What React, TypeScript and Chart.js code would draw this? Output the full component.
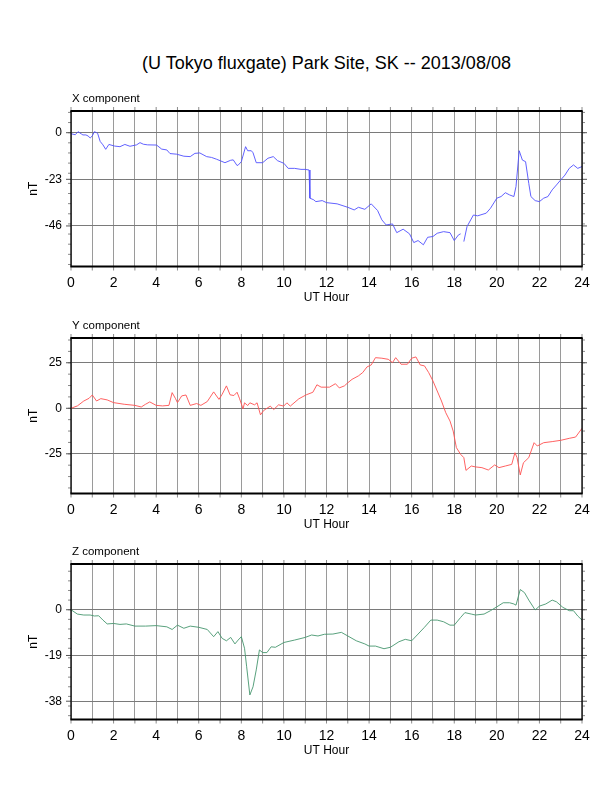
import React, { useEffect, useRef } from 'react';
import { Chart, registerables } from 'chart.js';

Chart.register(...registerables);
Chart.defaults.font.family = '"Liberation Sans", Arial, Helvetica, sans-serif';

const TITLE = '(U Tokyo fluxgate) Park Site, SK -- 2013/08/08';

// X component (nT)
const hoursX = [
  0, 0.2, 0.33, 0.5, 0.56, 0.7, 0.8, 0.9, 1.0, 1.1,
  1.2, 1.25, 1.37, 1.5, 1.63, 1.78, 2.05, 2.3, 2.53, 2.77,
  3.08, 3.24, 3.4, 3.6, 4.02, 4.26, 4.5, 4.65, 4.96, 5.3,
  5.6, 5.82, 6.05, 6.37, 6.6, 6.84, 7.23, 7.5, 7.62, 7.8,
  7.86, 8.0, 8.2, 8.3, 8.47, 8.55, 8.7, 9.0, 9.25,
  9.5, 9.7, 10.0, 10.2, 10.5, 10.8, 11.0, 11.18, 11.22, 11.4, 11.5, 11.8, 12.0, 12.5, 13.0, 13.3, 13.5, 13.8, 14.1, 14.4, 14.6, 14.8, 15.1, 15.3, 15.6, 15.9, 16.1, 16.3, 16.55, 16.75, 17.0, 17.2, 17.5, 17.8, 18.0, 18.2, 18.3, 18.38, 18.45, 18.6, 18.9, 19.1, 19.5, 19.7, 20.0, 20.2, 20.4, 20.6, 20.8, 20.9, 21.05, 21.2, 21.35, 21.5, 21.6, 21.8, 22.0, 22.2, 22.4, 22.6, 22.8, 23.0, 23.2, 23.4, 23.6, 23.8, 24.0,
];
const valuesX = [
  -0.5, -1, 0.5, -0.7, -1.1, -1.1, -1.6, -2.6, -1.6, 0.5,
  0, -0.3, -4.3, -6, -8.2, -5.8, -6.6, -6.9, -5.8, -6.7,
  -6, -4.9, -5.7, -6, -6.1, -8.1, -8.5, -10.3, -10.6, -11.6,
  -11.8, -10.2, -10, -11.8, -12.2, -13.1, -14.8, -13.6, -13.4, -16.2,
  -15.9, -14.3, -6.9, -8.9, -8.9, -9.9, -14.8, -14.8, -12.6,
  -11.8, -13.8, -15.1, -17.6, -17.6, -18.1, -18.1, -18.4, -32.3, -33.1, -34, -33.5, -34.5, -35.1, -36.8, -38.1, -36.8, -37.8, -35.1, -38.4, -43, -45.5, -45, -49.3, -47.6, -49.9, -54.2, -53.2, -55.3, -51.6, -51.2, -49.6, -48.8, -49.3, -53.2, -50.4, -49.9, null, -53.7, -46.3, -40.6, -41, -39.7, -37.3, -32.3, -31.5, -29.6, -30.7, -31.5, -26.6, -8.9, -13.5, -14.3, -25, -31.5, -33.5, -34, -32.3, -31.5, -28.2, -25.8, -23.3, -20.9, -17.6, -15.9, -17.6, -16.7,
];

// Y component (nT)
const hoursY = [
  0, 0.3, 0.6, 0.85, 1.0, 1.2, 1.4, 1.7, 2.0, 2.5, 3.0, 3.3, 3.5, 3.7, 4.0, 4.3, 4.6, 4.75, 4.9, 5.0, 5.2, 5.4, 5.6, 5.9, 6.1, 6.4, 6.7, 6.95, 7.1, 7.3,
  7.47, 7.65, 7.8, 7.92, 8.08, 8.15, 8.3, 8.4, 8.62, 8.74, 8.9, 9.05, 9.36, 9.52, 9.75, 9.99, 10.14, 10.3, 10.7, 11.05, 11.36, 11.55, 11.75, 12.14, 12.42, 12.6, 12.84, 13.0,
  13.2, 13.5, 13.7, 13.9, 14.1, 14.3, 14.6, 14.9, 15.1, 15.25, 15.5, 15.8, 16.0, 16.2, 16.4, 16.6, 16.8, 17.0, 17.2, 17.4, 17.6, 17.8, 17.95, 18.1, 18.3, 18.45, 18.55, 18.8, 19.0, 19.3, 19.6, 19.9, 20.1, 20.4, 20.7, 20.85, 20.95, 21.1, 21.25, 21.5, 21.75, 21.9, 22.2, 22.6, 23.0, 23.4, 23.7, 24.0,
];
const valuesY = [
  0, 1.3, 4, 5.5, 7.3, 4, 5.3, 4.6, 3.1, 2.2, 1.6, 0.7, 2.2, 3.5, 1.6, 1.3, 1.6, 8.6, 5.5, 3.1, 6.8, 7.3, 1.6, 2.6, 1.6, 3.7, 9, 4.9, 7.7, 12.3,
  7.4, 7, 8.8, 5.2, -0.3, 3, 1.5, 3, 1.9, 3, -3.6, -1.2, 1.2, -0.7, 1.9, 1.2, 3, 1.2, 5.2, 7.4, 8.8, 12.9, 11.6, 11.6, 13.5, 11.2, 12.3, 14,
  15.9, 17.8, 19.6, 22.7, 23.8, 27.8, 27.5, 26.9, 25.1, 27.8, 24.2, 24.2, 27.5, 28.2, 23.8, 23.3, 19.6, 15, 9.5, 4, -2.4, -7, -12.5, -21.6, -25.3, -27.1, -34.1, -31.7, -32.2, -32.6, -33.9, -31.1, -32.6, -31.7, -30.8, -24.4, -27.1, -36.6, -29.9, -27.1, -18.9, -20.7, -18.9, -18.3, -17.6, -16.5, -15.8, -11,
];

// Z component (nT)
const hoursZ = [0, 0.3, 0.6, 0.9, 1.1, 1.3, 1.5, 1.7, 2.0, 2.3, 2.6, 3.0, 3.5, 4.0, 4.5, 4.75, 5.0, 5.3, 5.6, 6.0, 6.4, 6.7, 6.9, 7.1, 7.3, 7.5, 7.7, 7.85, 8.0, 8.15, 8.25, 8.4, 8.55, 8.7, 8.85, 9.0, 9.2, 9.4, 9.6, 10.0, 10.5, 11.0, 11.3, 11.6, 11.9, 12.3, 12.7, 13.0, 13.4, 13.8, 14.0, 14.3, 14.7, 15.0, 15.4, 15.7, 16.0, 16.3, 16.6, 16.9, 17.2, 17.5, 17.8, 18.0, 18.3, 18.5, 18.8, 19.0, 19.4, 19.7, 20.0, 20.3, 20.6, 20.8, 20.9, 21.1, 21.3, 21.5, 21.8, 22.0, 22.3, 22.6, 22.8, 23.1, 23.4, 23.6, 23.8, 24.0];
const valuesZ = [0, -1.8, -2.2, -2.2, -2.6, -2.5, -4.3, -5.9, -5.7, -6.1, -5.9, -6.8, -6.8, -6.6, -7.1, -8.2, -6.4, -7.7, -6.8, -7.3, -8.2, -11.2, -9.1, -11.9, -12.9, -11.5, -14.2, -12.6, -11.2, -16, -23.7, -35.4, -32, -25, -16.7, -17.8, -17.8, -15.4, -15.6, -13.6, -12.6, -11.5, -10.5, -10.9, -10.2, -10.1, -9.4, -10.9, -12.9, -14.2, -15.1, -15.1, -16.2, -15.6, -13.3, -12.3, -12.9, -10.1, -7.3, -4.3, -4.3, -5, -6.4, -6.4, -3.2, -1.2, -1.8, -2.2, -1.8, -0.4, 1.2, 2.9, 2.9, 2.4, 1.9, 8.4, 7.1, 4, -0.1, 1.5, 2.4, 4, 3.3, 1, -0.4, -0.4, -2.6, -4.3];

// labelled y ticks per panel
const ticksX = [-46, -23, 0];
const ticksY = [-25, 0, 25];
const ticksZ = [-38, -19, 0];

const CANVAS_H = 226;
const AREA_TOP = 26;
const AREA_H = 155.5;

const panels = [
  { label: 'X component', hours: hoursX, values: valuesX, ticks: ticksX, color: 'rgb(80,80,255)', min: -66, max: 10.7, minor: 5, top: 85 },
  { label: 'Y component', hours: hoursY, values: valuesY, ticks: ticksY, color: 'rgb(255,80,80)', min: -46.8, max: 38.6, minor: 6.25, top: 311.5 },
  { label: 'Z component', hours: hoursZ, values: valuesZ, ticks: ticksZ, color: 'rgb(70,150,110)', min: -45.6, max: 19, minor: 4, top: 538 },
];

// frame, outward ticks and panel label
const framePlugin = {
  id: 'frame',
  afterDraw(chart: any, _args: any, opts: any) {
    const { ctx, chartArea: a, scales } = chart;
    const xs = scales.x;
    const ys = scales.y;
    ctx.save();
    ctx.lineWidth = 1;
    ctx.strokeStyle = '#8a8a8a';
    ctx.beginPath();
    for (let h = 0; h <= 24; h++) {
      const px = xs.getPixelForValue(h);
      ctx.moveTo(px, a.top - 4);
      ctx.lineTo(px, a.top);
      ctx.moveTo(px, a.bottom);
      ctx.lineTo(px, a.bottom + 4);
    }
    const start = Math.ceil(ys.min / opts.minor) * opts.minor;
    for (let v = start; v <= ys.max; v += opts.minor) {
      const py = ys.getPixelForValue(v);
      ctx.moveTo(a.left - 3, py);
      ctx.lineTo(a.left, py);
      ctx.moveTo(a.right, py);
      ctx.lineTo(a.right + 3, py);
    }
    ctx.stroke();
    ctx.strokeStyle = '#555';
    ctx.beginPath();
    for (const v of opts.ticks) {
      const py = ys.getPixelForValue(v);
      ctx.moveTo(a.left - 5, py);
      ctx.lineTo(a.left, py);
      ctx.moveTo(a.right, py);
      ctx.lineTo(a.right + 5, py);
    }
    ctx.stroke();

    ctx.strokeStyle = '#000';
    ctx.lineWidth = 1.3;
    ctx.beginPath();
    ctx.moveTo(a.left, a.top);
    ctx.lineTo(a.left, a.bottom);
    ctx.moveTo(a.right, a.top);
    ctx.lineTo(a.right, a.bottom);
    ctx.stroke();
    ctx.lineWidth = 2;
    ctx.beginPath();
    ctx.moveTo(a.left - 0.6, a.top);
    ctx.lineTo(a.right + 0.6, a.top);
    ctx.moveTo(a.left - 0.6, a.bottom);
    ctx.lineTo(a.right + 0.6, a.bottom);
    ctx.stroke();

    ctx.fillStyle = '#000';
    ctx.font = '11.5px "Liberation Sans", Arial, sans-serif';
    ctx.textAlign = 'left';
    ctx.textBaseline = 'alphabetic';
    ctx.fillText(opts.label, a.left + 1, a.top - 9.3);
    ctx.restore();
  },
};

function Panel({ p }: { p: (typeof panels)[number] }) {
  const ref = useRef<HTMLCanvasElement>(null);

  useEffect(() => {
    const ctx = ref.current?.getContext('2d');
    if (!ctx) return;
    const points = p.hours.map((h, i) => ({ x: h, y: p.values[i] }));

    const chart = new Chart(ctx, {
      type: 'line',
      data: {
        datasets: [
          {
            data: points as any,
            borderColor: p.color,
            borderWidth: 0.9,
            pointRadius: 0,
            tension: 0,
            spanGaps: false,
          },
        ],
      },
      options: {
        responsive: false,
        animation: false,
        layout: { padding: { top: AREA_TOP, right: 30, bottom: 0, left: 0 } },
        plugins: {
          legend: { display: false },
          tooltip: { enabled: false },
          frame: { label: p.label, minor: p.minor, ticks: p.ticks },
        } as any,
        scales: {
          x: {
            type: 'linear',
            min: 0,
            max: 24,
            ticks: {
              stepSize: 1,
              autoSkip: false,
              maxRotation: 0,
              padding: 8,
              color: '#000',
              font: { size: 14 },
              callback: (v: any) => (Number(v) % 2 === 0 ? String(v) : ''),
            },
            grid: { color: '#9a9a9a', lineWidth: 1, drawTicks: false },
            border: { display: false },
            title: { display: true, text: 'UT Hour', color: '#000', font: { size: 12 }, padding: { top: 0, bottom: 6.3 } },
            afterFit: (s: any) => {
              s.height = CANVAS_H - AREA_TOP - AREA_H;
            },
          },
          y: {
            type: 'linear',
            min: p.min,
            max: p.max,
            afterBuildTicks: (s: any) => {
              s.ticks = p.ticks.map((v) => ({ value: v }));
            },
            ticks: { padding: 9, color: '#000', font: { size: 12 } },
            grid: { color: '#7a7a7a', lineWidth: 1, drawTicks: false },
            border: { display: false },
            title: { display: true, text: 'nT', color: '#000', font: { size: 12 }, padding: { top: 26.3, bottom: 0 } },
            afterFit: (s: any) => {
              s.width = 71;
            },
          },
        },
      },
      plugins: [framePlugin],
    });

    return () => {
      chart.destroy();
    };
  }, [p]);

  return <canvas ref={ref} width={612} height={CANVAS_H} style={{ position: 'absolute', left: 0, top: p.top }} />;
}

export default function App() {
  return (
    <div style={{ position: 'absolute', left: 0, top: 0, width: 612, height: 792, background: '#fff' }}>
      <div
        style={{
          position: 'absolute',
          left: 71,
          width: 511,
          top: 53,
          textAlign: 'center',
          font: '18px "Liberation Sans", Arial, sans-serif',
          lineHeight: '20px',
          color: '#000',
          whiteSpace: 'nowrap',
        }}
      >
        {TITLE}
      </div>
      {panels.map((p) => (
        <Panel key={p.label} p={p} />
      ))}
    </div>
  );
}
